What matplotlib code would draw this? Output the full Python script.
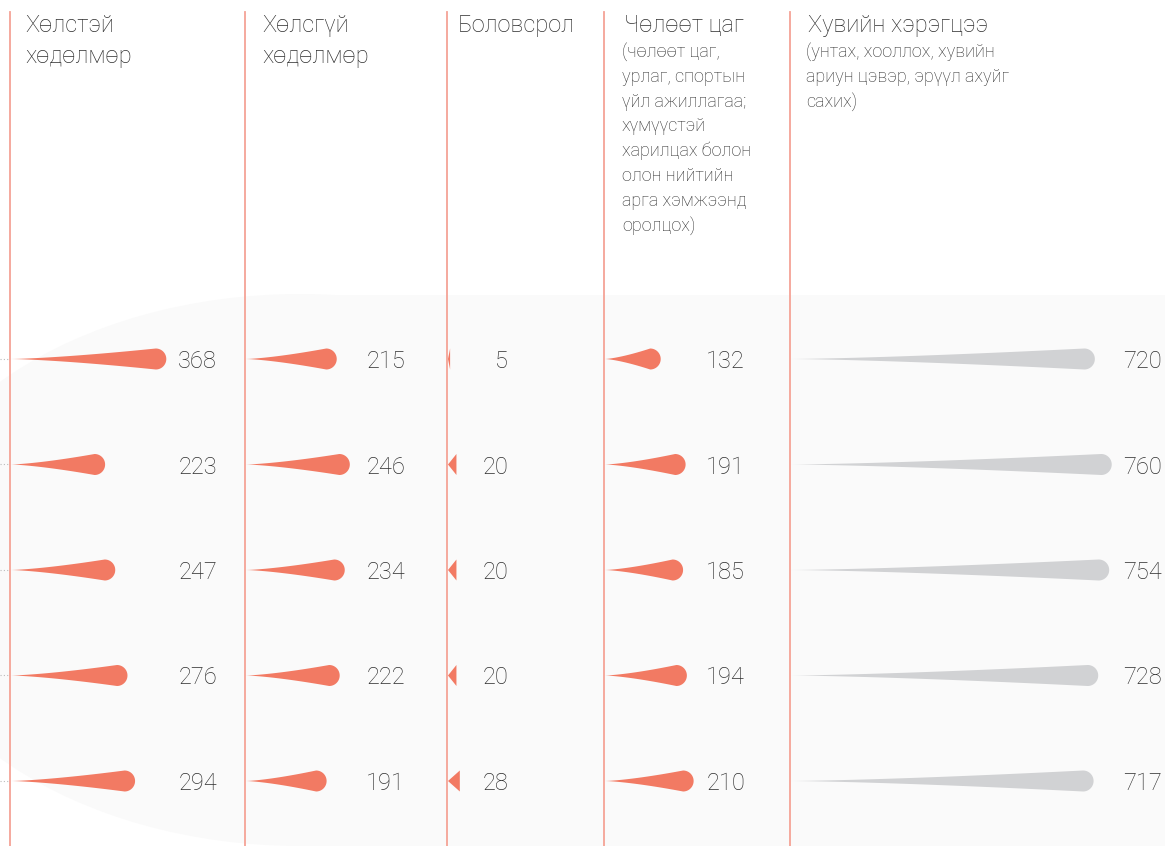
import numpy as np
import matplotlib.pyplot as plt
from matplotlib.patches import Polygon, Ellipse, Rectangle

plt.rcParams['font.family'] = ['Roboto', 'DejaVu Sans']

# minutes per day spent on each activity, five groups (rows)
paid_work = [368, 223, 247, 276, 294]
unpaid_work = [215, 246, 234, 222, 191]
education = [5, 20, 20, 20, 28]
free_time = [132, 191, 185, 194, 210]
personal = [720, 760, 754, 728, 717]

titles = [["Хөлстэй", "хөдөлмөр"],
          ["Хөлсгүй", "хөдөлмөр"],
          ["Боловсрол"],
          ["Чөлөөт цаг"],
          ["Хувийн хэрэгцээ"]]
subtitles = [[], [], [],
             ["(чөлөөт цаг,", "урлаг, спортын", "үйл ажиллагаа;", "хүмүүстэй",
              "харилцах болон", "олон нийтийн", "арга хэмжээнд", "оролцох)"],
             ["(унтах, хооллох, хувийн", "ариун цэвэр, эрүүл ахуйг", "сахих)"]]

columns = [paid_work, unpaid_work, education, free_time, personal]

# layout (pixels)
W, H = 1165, 846
col_x = [10, 245, 447, 604, 790]
title_x = [25, 262, 458, 624, 808]
label_x = [217, 405, 508, 745, 1162]
row_y0, row_step = 359, 105.5
px_per_min = 0.422
r = 10.5

red = "#f27a63"
grey = "#d1d2d4"
line_col = "#f5a396"
txt = "#2e2e2e"

fig = plt.figure(figsize=(W / 100, H / 100), dpi=100)
ax = fig.add_axes([0, 0, 1, 1])
ax.set_xlim(0, W)
ax.set_ylim(H, 0)
ax.axis("off")

# soft background
ax.add_patch(Ellipse((300, 570), 820, 552, color="#fafafa", lw=0, zorder=0))
ax.add_patch(Rectangle((300, 295), W - 300, H, color="#fafafa", lw=0, zorder=0))


def teardrop(x0, y, length, color):
    if length >= 2 * r:
        cx = x0 + length - r
        t = np.linspace(0, 1, 60)
        xs = x0 + t * (cx - x0)
        hw = r * t ** 1.4
        th = np.linspace(np.pi / 2, -np.pi / 2, 40)
        arc = np.column_stack([cx + r * np.cos(th), y - r * np.sin(th)])
        top = np.column_stack([xs, y - hw])
        bot = np.column_stack([xs[::-1], y + hw[::-1]])
        pts = np.vstack([top, arc, bot])
    else:
        pts = [[x0, y], [x0 + length, y - r], [x0 + length, y + r]]
    ax.add_patch(Polygon(pts, closed=True, color=color, lw=0, zorder=3))


for ci, vals in enumerate(columns):
    x0 = col_x[ci]
    ax.plot([x0, x0], [12, H], color=line_col, lw=1.3, zorder=2)
    color = grey if ci == 4 else red
    for ri, v in enumerate(vals):
        y = row_y0 + ri * row_step
        teardrop(x0 + 1, y, v * px_per_min, color)
        ax.text(label_x[ci], y + 9, str(v), ha="right", va="baseline",
                fontsize=17, color=txt, fontweight="light", zorder=4)
    for li, line in enumerate(titles[ci]):
        ax.text(title_x[ci], 32 + li * 31, line, ha="left", va="baseline",
                fontsize=17, color=txt, fontweight="light")
    for li, line in enumerate(subtitles[ci]):
        ax.text(title_x[ci] - 2, 57 + li * 24.8, line, ha="left", va="baseline",
                fontsize=13, color=txt, fontweight="light")

# little dotted ticks at the left edge
for ri in range(5):
    y = row_y0 + ri * row_step
    ax.plot([0, 10], [y, y], color="#bbbbbb", lw=0.8, ls=(0, (1, 2)), zorder=1)

fig.savefig("out.png", dpi=100)
